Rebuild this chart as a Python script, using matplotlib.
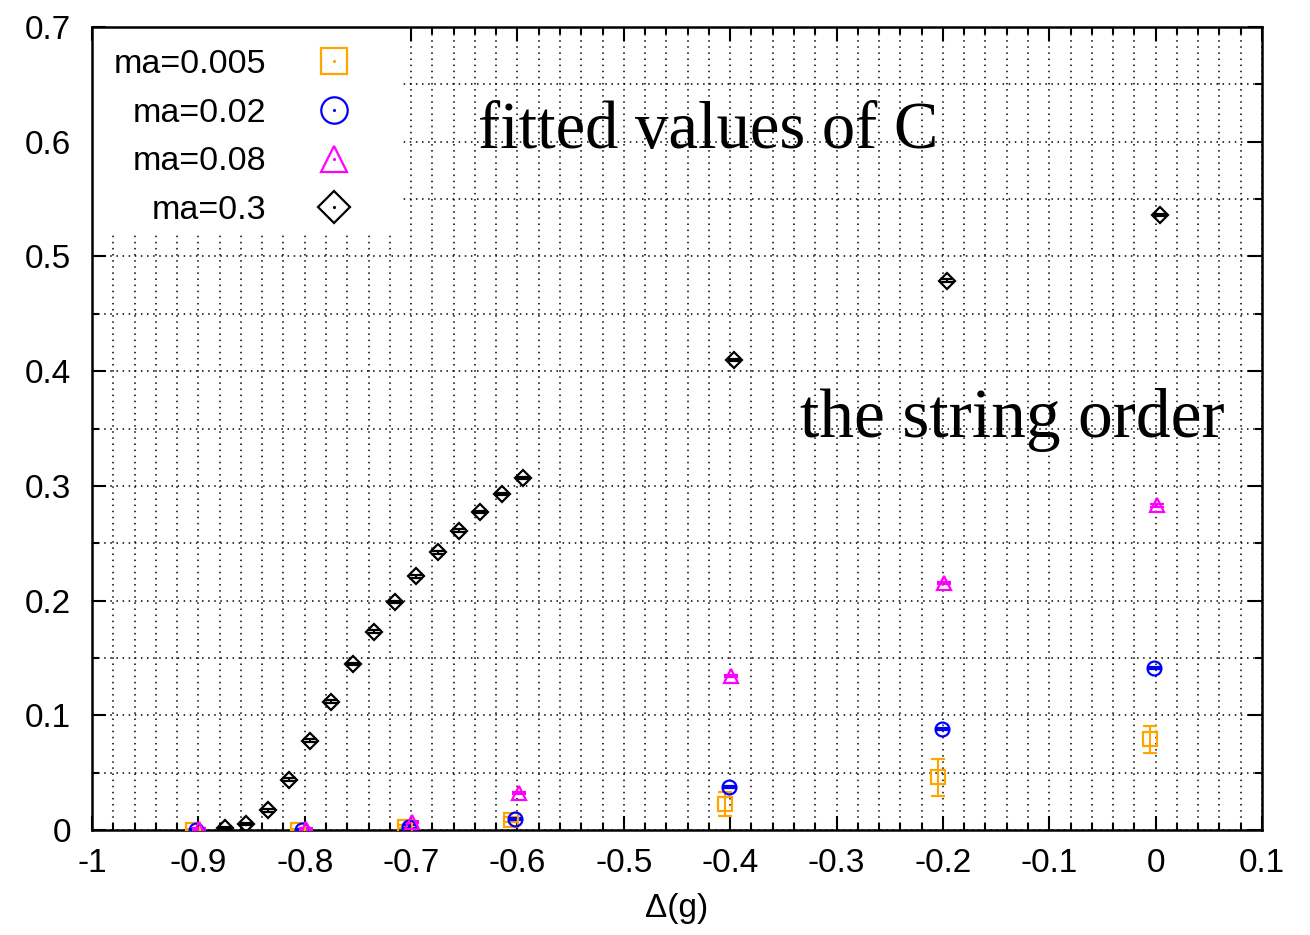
import numpy as np
import matplotlib
matplotlib.use('Agg')
import matplotlib.pyplot as plt
from matplotlib.lines import Line2D
from matplotlib.patches import Rectangle
from matplotlib.ticker import MultipleLocator, FuncFormatter

plt.rcParams['font.family'] = ['Liberation Sans', 'DejaVu Sans']
plt.rcParams['axes.unicode_minus'] = False

# fitted C vs Delta(g), one series per mass ma
x_005 = [-0.905, -0.806, -0.706, -0.606, -0.405, -0.205, -0.005]
c_005 = [0.0, 0.0, 0.003, 0.009, 0.0225, 0.046, 0.079]
e_005 = [0.001, 0.001, 0.001, 0.002, 0.0105, 0.016, 0.0115]

x_02 = [-0.902, -0.803, -0.702, -0.602, -0.401, -0.201, -0.002]
c_02 = [0.0, 0.0, 0.003, 0.0095, 0.0375, 0.088, 0.1415]
e_02 = [0.001, 0.001, 0.001, 0.001, 0.001, 0.001, 0.001]

x_08 = [-0.899, -0.799, -0.699, -0.599, -0.399, -0.199, 0.001]
c_08 = [0.001, 0.001, 0.007, 0.0325, 0.134, 0.2155, 0.283]
e_08 = [0.001, 0.001, 0.001, 0.001, 0.001, 0.001, 0.001]

x_3 = [-0.875, -0.855, -0.835, -0.815, -0.795, -0.775, -0.755, -0.735,
       -0.715, -0.695, -0.675, -0.655, -0.635, -0.615, -0.595,
       -0.396, -0.196, 0.004]
c_3 = [0.002, 0.005, 0.017, 0.044, 0.078, 0.112, 0.145, 0.173,
       0.199, 0.221, 0.242, 0.261, 0.277, 0.293, 0.307,
       0.410, 0.479, 0.536]
e_3 = [0.001] * len(c_3)

series = [
    (x_005, c_005, e_005, 's', '#ffa500', 'ma=0.005'),
    (x_02, c_02, e_02, 'o', '#0000ff', 'ma=0.02'),
    (x_08, c_08, e_08, '^', '#ff00ff', 'ma=0.08'),
    (x_3, c_3, e_3, 'D', 'black', 'ma=0.3'),
]

fig = plt.figure(figsize=(13.1, 9.35), dpi=100)
ax = fig.add_axes([92 / 1310, 105 / 935, 1170 / 1310, 803 / 935])

handles = []
for xs, ys, es, mk, col, lab in series:
    ms = 8.5 if mk == 'D' else 10
    ax.errorbar(xs, ys, yerr=es, fmt=mk, color=col, mfc='none', mec=col,
                ms=ms, mew=1.6, elinewidth=1.5, capsize=5, capthick=1.5,
                zorder=3)
    big = Line2D([], [], ls='none', marker=mk, mfc='none', mec=col,
                 ms=ms * 1.9, mew=1.6)
    dot = Line2D([], [], ls='none', marker='.', color=col, ms=2.5)
    handles.append(((big, dot), lab))

ax.set_xlim(-1, 0.1)
ax.set_ylim(0, 0.7)
ax.xaxis.set_major_locator(MultipleLocator(0.1))
ax.xaxis.set_minor_locator(MultipleLocator(0.02))
ax.yaxis.set_major_locator(MultipleLocator(0.1))
ax.yaxis.set_minor_locator(MultipleLocator(0.05))
fmt = FuncFormatter(lambda v, p: '%g' % round(v, 3))
ax.xaxis.set_major_formatter(fmt)
ax.yaxis.set_major_formatter(fmt)

ax.tick_params(which='both', direction='in', top=True, right=True,
               labelsize=24, width=1.5)
ax.tick_params(which='major', length=10)
ax.tick_params(which='minor', length=5)
ax.tick_params(axis='x', which='major', pad=13)
ax.tick_params(axis='y', which='major', pad=15)
ax.grid(True, which='both', ls=(0, (1, 3)), color='black', lw=1.1)
ax.set_axisbelow(True)
for s in ax.spines.values():
    s.set_linewidth(1.8)

# blank the grid behind the key
ax.add_patch(Rectangle((0, 0.745), 0.263, 0.255, transform=ax.transAxes,
                       facecolor='white', edgecolor='none', zorder=1))

leg = ax.legend([h for h, _ in handles], [l for _, l in handles],
                loc='upper right', bbox_to_anchor=(0.2286, 0.9725),
                frameon=False, fontsize=24.5, markerfirst=False,
                handlelength=1.5, handletextpad=1.25, labelspacing=0.52,
                borderpad=0, borderaxespad=0)

ax.set_xlabel('\u0394(g)', fontsize=24, labelpad=10)

ax.text(0.33, 0.849, 'fitted values of C', transform=ax.transAxes,
        family='Liberation Serif', fontsize=48, va='baseline')
ax.text(0.605, 0.489, 'the string order', transform=ax.transAxes,
        family='Liberation Serif', fontsize=50, va='baseline')

fig.savefig('out.png', dpi=100)
